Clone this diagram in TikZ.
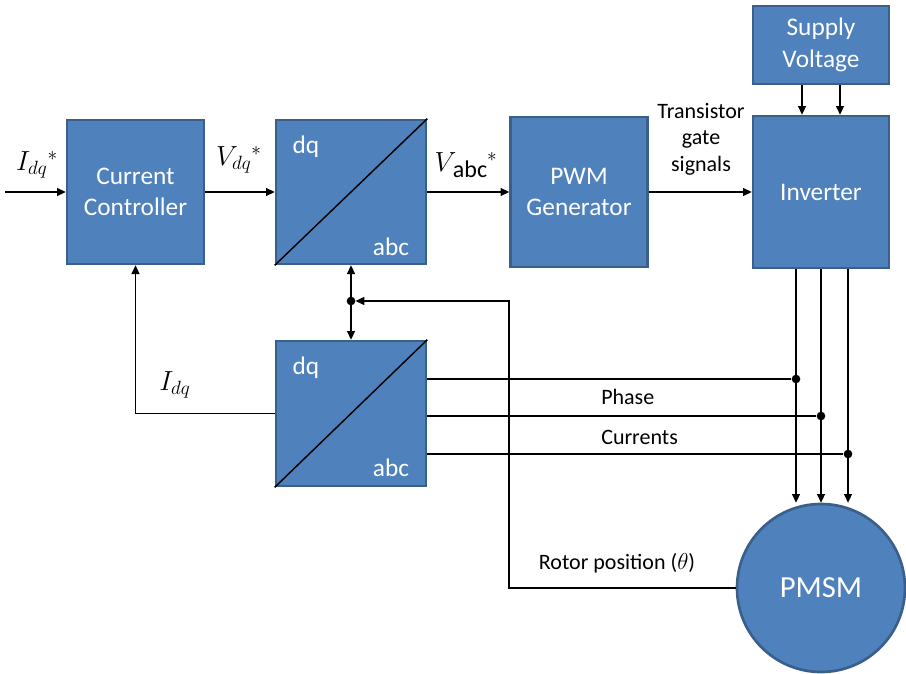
\documentclass[tikz,border=0pt]{standalone}
\usepackage{fontspec}
\setmainfont{Carlito}
\usetikzlibrary{arrows.meta}
\DeclareMathSizes{20}{20}{15}{12}
\definecolor{boxfill}{HTML}{4F81BD}
\definecolor{boxedge}{HTML}{3A5F8B}
\begin{document}
\begin{tikzpicture}[x=0.75pt,y=-0.75pt,
  blk/.style={draw=boxedge, fill=boxfill, line width=2pt, text=white,
    align=center, inner sep=0pt, font=\fontsize{19}{23.5}\selectfont},
  wire/.style={line width=1.1pt, draw=black},
  tip/.tip={Triangle[length=6.5pt,width=6pt]},
  arr/.style={wire, -tip},
  jdot/.style={circle, fill=black, inner sep=0pt, minimum size=6.5pt},
  lbl/.style={font=\fontsize{16.5}{20}\selectfont, align=center, inner sep=0pt},
  mlbl/.style={font=\fontsize{20}{24}\selectfont, inner sep=0pt},
  conv/.style={text=white, font=\fontsize{19}{23.5}\selectfont, inner sep=0pt}]

\useasboundingbox (0,0) rectangle (906,674);

% blocks
\node[blk, minimum width=102.75pt, minimum height=108pt] (cc) at (135.5,192) {Current\\Controller};
\node[blk, minimum width=112.5pt, minimum height=108pt] (t1) at (351,192) {};
\node[blk, minimum width=102.75pt, minimum height=112.5pt] (pwm) at (579,192) {PWM\\Generator};
\node[blk, minimum width=102pt, minimum height=114pt] (inv) at (821,192) {Inverter};
\node[blk, minimum width=102pt, minimum height=58.5pt] (sup) at (821,45) {Supply\\Voltage};
\node[blk, minimum width=112.5pt, minimum height=108.75pt] (t2) at (351,413.5) {};
\node[blk, circle, minimum size=126pt, font=\fontsize{23}{26}\selectfont] (pmsm) at (821,588) {PMSM};

% dq/abc transformation blocks
\draw[wire] (t1.south west) -- (t1.north east);
\draw[wire] (t2.south west) -- (t2.north east);
\node[conv] (t1dq) at (306,147) {dq};
\node[conv] (t1abc) at (391,247) {abc};
\node[conv] (t2dq) at (306,368) {dq};
\node[conv] (t2abc) at (391,468) {abc};

% forward path
\coordinate (in) at (5,192);
\draw[arr] (in) -- (cc.west);
\draw[arr] (cc.east) -- (t1.west);
\draw[arr] (t1.east) -- (pwm.west);
\draw[arr] (pwm.east) -- (inv.west);

% supply
\coordinate (s1) at (802,0);
\coordinate (s2) at (840,0);
\draw[arr] (sup.south -| s1) -- (inv.north -| s1);
\draw[arr] (sup.south -| s2) -- (inv.north -| s2);

% phase current taps
\node[jdot] (d1) at (796,379) {};
\node[jdot] (d2) at (821,416) {};
\node[jdot] (d3) at (848,454) {};
\draw[arr] (inv.south -| d1) -- (d1 |- pmsm.north);
\draw[arr] (inv.south -| d2) -- (d2 |- pmsm.north);
\draw[arr] (inv.south -| d3) -- (d3 |- pmsm.north);
\draw[wire] (t2.east |- d1) -- (d1);
\draw[wire] (t2.east |- d2) -- (d2);
\draw[wire] (t2.east |- d3) -- (d3);

% angle feedback
\draw[wire, tip-tip] (t1.south) -- (t2.north);
\node[jdot] (fbdot) at (351,301) {};
\coordinate (fbc) at (509,301);
\draw[arr] (pmsm.west) -| (fbc) -- (fbdot);

% current feedback
\draw[arr] (t2.west) -| (cc.south);

% labels
\node[mlbl] (lidqs) at (37,165) {$I_{dq}{}^{*}$};
\node[mlbl] (lvdqs) at (239,160) {$V_{dq}{}^{*}$};
\node[mlbl] (lvabc) at (466,165) {$V$\kern-2.5pt\raisebox{-4pt}{\fontsize{18}{20}\selectfont abc}$^{*}$};
\node[mlbl] (lidq) at (175,385) {$I_{dq}$};
\node[lbl] (lgate) at (701,139) {Transistor\\gate\\signals};
\node[lbl, anchor=west] (lphase) at (601,397) {Phase};
\node[lbl, anchor=west] (lcurr) at (601,437) {Currents};
\node[lbl] (lrotor) at (617,563) {Rotor position ($\theta$)};
\end{tikzpicture}
\end{document}
